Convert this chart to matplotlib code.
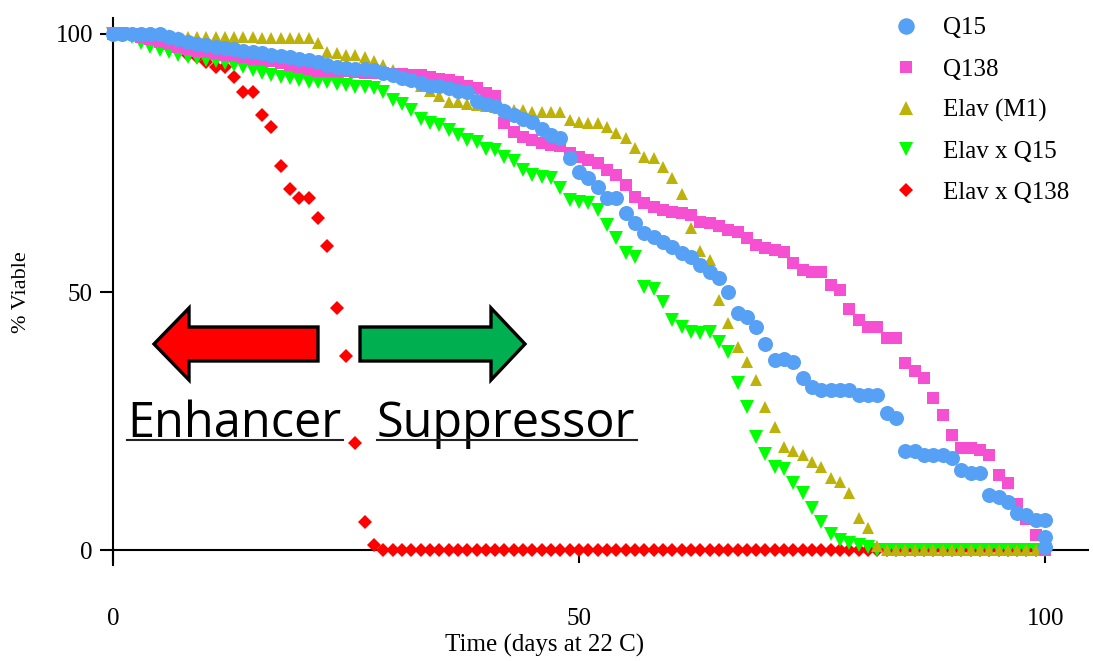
import matplotlib
matplotlib.use('Agg')
import matplotlib.pyplot as plt
from matplotlib.patches import Polygon
from matplotlib.lines import Line2D

# ---------------- data ----------------
days = list(range(0, 101))

q15 = [100, 100, 100, 100, 100, 100, 99.5, 99, 98.5, 98, 97.8, 97.5, 97.2, 97, 96.8, 96.5, 96.3, 96, 95.8, 95.5,
       95.2, 95, 94.5, 94, 93.7, 93.5, 93.3, 93.2, 93, 92.5, 92, 91.5, 91, 90.5, 90, 90, 89.5, 89, 88.8, 87,
       86.5, 86, 85, 84.3, 83.5, 83, 81.5, 80.4, 79.8, 76, 73.3, 72, 70.4, 68.2, 68.2, 65.3, 63.3, 61.4, 60.7, 59.7,
       58.8, 57.5, 56.8, 55.2, 53.9, 52.7, 50, 46, 45.2, 43.3, 40, 36.8, 37, 36.5, 33.3, 31.6, 31, 31, 31, 31,
       30, 30, 30, 26.5, 25.5, 19.1, 19.1, 18.4, 18.4, 18.4, 17.8, 15.5, 14.9, 14.9, 10.7, 10.3, 9.4, 7.1, 6.8, 5.8,
       5.8]
q15_end_days = [100, 100]
q15_end = [2.5, 0.5]

q138 = [100, 100, 100, 99.5, 99, 98.5, 98, 97.5, 97, 96.8, 96.5, 96.2, 96, 95.8, 95.5, 95.2, 95, 94.7, 94.4, 94,
        93.6, 93.2, 92.8, 92.8, 92.8, 92.8, 92.6, 92.5, 92.5, 92.4, 92.3, 92.2, 92, 92, 91.7, 91.2, 91, 90.7, 90, 89.5,
        88.5, 87.9, 82.7, 81, 80.1, 79.5, 78.9, 78.5, 78.2, 77, 76.2, 75.6, 75, 73.6, 72.7, 70.7, 68.5, 67.2, 66.5, 65.8,
        65.6, 65.3, 64.9, 63.6, 63.3, 62.7, 62, 61.7, 60.4, 59.1, 58.5, 58.1, 57.8, 55.6, 54.3, 53.9, 53.9, 51.4, 50.4, 46.7,
        44.6, 43.2, 43.3, 41, 41, 36.2, 34.6, 33.3, 29.4, 26.2, 22.3, 19.7, 19.7, 19.4, 18.4, 14.5, 12.9, 9, 6, 3,
        0]

elav = [100, 100, 100, 100, 100, 100, 99.8, 99.5, 99.5, 99.5, 99.5, 99.5, 99.5, 99.5, 99.5, 99.5, 99.2, 99.2, 99.2, 99.2,
        99.2, 99.2, 98.2, 96.6, 96.3, 95.9, 95.9, 95.6, 94.8, 94, 93, 92, 91, 90, 89, 88, 86.9, 86.9, 86.5, 86.3,
        86, 85.8, 85.5, 85.3, 85.3, 84.9, 84.9, 84.9, 84.9, 83.3, 83, 82.7, 82.7, 82, 80.8, 79.8, 77.9, 76.2, 76, 74.3,
        72, 69, 62.4, 58, 56.2, 48.4, 43.9, 39.4, 36.5, 32.9, 27.8, 23.9, 20, 19.1, 18.4, 17.1, 16.1, 13.9, 13.2, 11,
        6.3, 4.2, 0.8, 0, 0, 0, 0, 0, 0, 0, 0, 0, 0, 0, 0, 0, 0, 0, 0, 0,
        0]

elav_q15 = [100, 100, 99.5, 98.2, 97.5, 96.9, 96.5, 95.9, 95.6, 95.3, 95, 94.7, 94.3, 94, 93.7, 93, 92.4, 92.1, 91.7, 91.4,
            91.1, 90.7, 90.7, 90.7, 90.4, 90.1, 89.8, 89.8, 89.5, 88.8, 87.2, 86.5, 85.3, 83.5, 82.7, 82.4, 81.4, 80.4, 79.5, 79.1,
            77.8, 77.5, 76.2, 75.3, 73.6, 72.7, 72.3, 72, 70.1, 67.8, 67.5, 67.2, 65.9, 63, 60.4, 57.5, 56.8, 51, 50.5, 48.1,
            44.6, 43.3, 42.3, 42, 42.3, 40.4, 38.4, 32.3, 27.8, 22, 18.7, 16.1, 15.8, 12.9, 11, 8.1, 5.5, 3.2, 1.9, 1.3,
            1, 0.6, 0, 0, 0, 0, 0, 0, 0, 0, 0, 0, 0, 0, 0, 0, 0, 0, 0, 0,
            0]

elav_q138 = [100, 100, 100, 99, 99, 98.5, 98, 97.5, 96, 95.5, 94.5, 93.7, 93.7, 91.7, 88.8, 88.8, 84.3, 81.9, 74.5, 69.9,
             68.2, 68.2, 64.3, 58.9, 46.9, 37.6, 20.7, 5.4, 1, 0, 0, 0, 0, 0, 0, 0, 0, 0, 0, 0,
             0, 0, 0, 0, 0, 0, 0, 0, 0, 0, 0, 0, 0, 0, 0, 0, 0, 0, 0, 0,
             0, 0, 0, 0, 0, 0, 0, 0, 0, 0, 0, 0, 0, 0, 0, 0, 0, 0, 0, 0,
             0, 0, 0, 0, 0, 0, 0, 0, 0, 0, 0, 0, 0, 0, 0, 0, 0, 0, 0, 0,
             0]

labels = ['Q15', 'Q138', 'Elav (M1)', 'Elav x Q15', 'Elav x Q138']
x_ticks = [0, 50, 100]
y_ticks = [0, 50, 100]

# ---------------- figure ----------------
plt.rcParams['font.family'] = ['Liberation Serif', 'DejaVu Serif']
W, H = 1093, 661
fig = plt.figure(figsize=(W / 100, H / 100), dpi=100)


def fx(px):
    return px / W


def fy(py):
    return 1 - py / H


ax = fig.add_axes([fx(113), fy(565), (1088 - 113) / W, (565 - 18) / H])
ax.set_xlim(0, 104.6)
ax.set_ylim(-2.9, 103.1)

c_blue = '#56A0F5'
c_pink = '#F550D2'
c_olive = '#BDB20A'
c_green = '#00FF00'
c_red = '#FF0000'

common = dict(linestyle='none', clip_on=False, markeredgewidth=0)
h_red, = ax.plot(days, elav_q138, marker='D', ms=6.8, color=c_red, zorder=3, **common)
h_green, = ax.plot(days, elav_q15, marker='v', ms=9.5, color=c_green, zorder=4, **common)
h_olive, = ax.plot(days, elav, marker='^', ms=8.8, color=c_olive, zorder=5, **common)
h_pink, = ax.plot(days, q138, marker='s', ms=8.4, color=c_pink, zorder=6, **common)
h_blue, = ax.plot(days, q15, marker='o', ms=10.8, color=c_blue, zorder=7, **common)
ax.plot(q15_end_days, q15_end, marker='o', ms=10.8, color=c_blue, zorder=7, **common)

# axes styling
for s in ['top', 'right']:
    ax.spines[s].set_visible(False)
ax.spines['bottom'].set_position(('data', 0))
for s in ['left', 'bottom']:
    ax.spines[s].set_linewidth(1.5)
    ax.spines[s].set_zorder(2)
ax.set_xticks(x_ticks)
ax.set_yticks(y_ticks)
ax.tick_params(axis='both', direction='out', length=9.5, width=1.5, labelsize=18)
ax.tick_params(axis='x', pad=32)
ax.tick_params(axis='y', pad=5)

fig.text(fx(545), fy(645), 'Time (days at 22 C)', ha='center', va='center', fontsize=18)
fig.text(fx(22), fy(292), '% Viable', ha='center', va='center', rotation=90, fontsize=16)

# legend
leg = fig.legend([h_blue, h_pink, h_olive, h_green, h_red], labels,
                 loc='upper left', bbox_to_anchor=(fx(893), fy(17)),
                 frameon=False, fontsize=18, numpoints=1, borderpad=0,
                 handlelength=1.0, handletextpad=1.0, labelspacing=0.74,
                 borderaxespad=0, markerscale=1.1)

# arrows
red_arrow = Polygon([(fx(154), fy(344)), (fx(189), fy(308)), (fx(189), fy(327)), (fx(318), fy(327)),
                     (fx(318), fy(361)), (fx(189), fy(361)), (fx(189), fy(380))],
                    closed=True, transform=fig.transFigure, facecolor='#FF0000', edgecolor='black',
                    linewidth=2.4, joinstyle='miter', zorder=1)
green_arrow = Polygon([(fx(360), fy(327)), (fx(491), fy(327)), (fx(491), fy(308)), (fx(525), fy(344)),
                       (fx(491), fy(380)), (fx(491), fy(361)), (fx(360), fy(361))],
                      closed=True, transform=fig.transFigure, facecolor='#00B050', edgecolor='black',
                      linewidth=2.4, joinstyle='miter', zorder=1)
fig.patches.extend([red_arrow, green_arrow])

fig.text(fx(127), fy(437), 'Enhancer', ha='left', va='baseline', fontsize=35, family='Open Sans', zorder=1)
fig.text(fx(377), fy(437), 'Suppressor', ha='left', va='baseline', fontsize=35, family='Open Sans', zorder=1)
fig.lines.append(Line2D([fx(127), fx(343)], [fy(440), fy(440)], transform=fig.transFigure, color='#222222', lw=1.5))
fig.lines.append(Line2D([fx(377), fx(637)], [fy(440), fy(440)], transform=fig.transFigure, color='#222222', lw=1.5))

fig.savefig('out.png', dpi=100)
